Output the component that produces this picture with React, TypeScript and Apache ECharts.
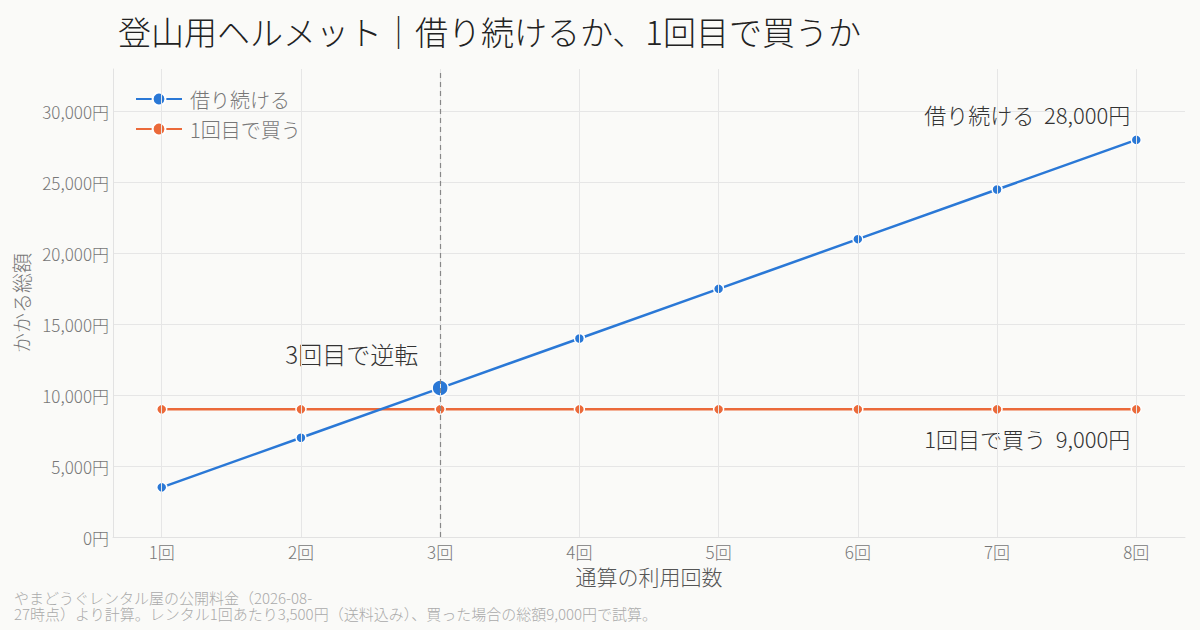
import React, { useEffect, useRef } from "react";
import * as echarts from "echarts";

const uses = [1, 2, 3, 4, 5, 6, 7, 8];
const rentTotals = [3500, 7000, 10500, 14000, 17500, 21000, 24500, 28000];
const buyTotals = [9000, 9000, 9000, 9000, 9000, 9000, 9000, 9000];
const yTicks = [0, 5000, 10000, 15000, 20000, 25000, 30000];
const crossoverUse = 3;
const seriesNames = ["借り続ける", "1回目で買う"];
const titleText = "登山用ヘルメット｜借り続けるか、1回目で買うか";
const noteText =
  "やまどうぐレンタル屋の公開料金（2026-08-\n27時点）より計算。レンタル1回あたり3,500円（送料込み）、買った場合の総額9,000円で試算。";

const FONT = "'Noto Sans CJK JP', 'Noto Sans', sans-serif";
const W = 200;
const BLUE = "#2a78d6";
const ORANGE = "#eb6a3a";

const fmtYen = (v: number) => v.toLocaleString("en-US") + "円";

export default function App() {
  const ref = useRef<HTMLDivElement>(null);
  useEffect(() => {
    if (!ref.current) return;
    const chart = echarts.init(ref.current, null, { renderer: "svg" });
    const last = uses.length - 1;
    const rentData = uses.map((u, i) => {
      const item: any = { value: [u, rentTotals[i]] };
      if (u === crossoverUse) {
        item.symbolSize = 16;
        item.label = {
          show: true,
          formatter: `${crossoverUse}回目で逆転`,
          position: "top",
          align: "right",
          distance: 14,
          offset: [-22, 0],
          fontSize: 24,
          color: "#333",
          fontFamily: FONT,
          fontWeight: W,
        };
      }
      if (i === last) {
        item.label = {
          show: true,
          formatter: `${seriesNames[0]}  ${fmtYen(rentTotals[i])}`,
          position: "top",
          align: "right",
          distance: 9,
          offset: [-6, 0],
          fontSize: 22,
          color: "#333",
          fontFamily: FONT,
          fontWeight: W,
        };
      }
      return item;
    });
    const buyData = uses.map((u, i) => {
      const item: any = { value: [u, buyTotals[i]] };
      if (i === last) {
        item.label = {
          show: true,
          formatter: `${seriesNames[1]}  ${fmtYen(buyTotals[i])}`,
          position: "bottom",
          align: "right",
          distance: 12,
          offset: [-6, 0],
          fontSize: 22,
          color: "#333",
          fontFamily: FONT,
          fontWeight: W,
        };
      }
      return item;
    });

    chart.setOption({
      animation: false,
      backgroundColor: "#fafaf8",
      textStyle: { fontFamily: FONT, fontWeight: W },
      title: [
        {
          text: titleText,
          left: 113,
          top: 9,
          textStyle: { fontSize: 33, fontWeight: W, color: "#222", fontFamily: FONT },
        },
        {
          text: noteText,
          left: 9,
          bottom: 4,
          textStyle: {
            fontSize: 15,
            fontWeight: W,
            color: "#aaa",
            lineHeight: 16,
            fontFamily: FONT,
          },
        },
      ],
      legend: {
        orient: "vertical",
        left: 130,
        top: 84,
        itemWidth: 46,
        itemHeight: 16,
        itemGap: 10,
        textStyle: { fontSize: 20, color: "#777", fontFamily: FONT, fontWeight: W, padding: [0, 0, 0, 3] },
        data: seriesNames,
      },
      grid: { left: 113, right: 15, top: 69, bottom: 93, containLabel: false },
      xAxis: {
        type: "value",
        min: 0.65,
        max: 8.35,
        name: "通算の利用回数",
        nameLocation: "middle",
        nameGap: 28,
        nameTextStyle: { fontSize: 21, color: "#555", fontFamily: FONT, fontWeight: W },
        axisLine: { show: true, lineStyle: { color: "#e2e2e2", width: 1 } },
        axisTick: { show: false },
        splitLine: { show: false },
        axisLabel: {
          customValues: uses,
          formatter: (v: number) => `${v}回`,
          fontSize: 17,
          color: "#777",
          margin: 6,
          fontFamily: FONT,
          fontWeight: W,
        },
      },
      yAxis: {
        type: "value",
        min: 0,
        max: 33000,
        interval: 5000,
        name: "かかる総額",
        nameLocation: "middle",
        nameGap: 75,
        nameTextStyle: { fontSize: 20, color: "#777", fontFamily: FONT, fontWeight: W },
        axisLine: { show: true, lineStyle: { color: "#e2e2e2", width: 1 } },
        axisTick: { show: false },
        splitLine: { show: true, showMaxLine: false, lineStyle: { color: "#e6e6e6", width: 1 } },
        axisLabel: {
          customValues: yTicks,
          formatter: (v: number) => fmtYen(v),
          fontSize: 17,
          color: "#777",
          margin: 4,
          fontFamily: FONT,
          fontWeight: W,
        },
      },
      series: [
        {
          name: "grid-verticals",
          type: "line",
          data: [],
          silent: true,
          markLine: {
            silent: true,
            symbol: "none",
            label: { show: false },
            lineStyle: { color: "#e6e6e6", width: 1, type: "solid" },
            data: uses.map((u) => ({ xAxis: u })),
          },
        },
        {
          name: seriesNames[1],
          type: "line",
          data: buyData,
          color: ORANGE,
          lineStyle: { width: 2.5, color: ORANGE },
          symbol: "circle",
          symbolSize: 10,
          itemStyle: { color: ORANGE, borderColor: "#fff", borderWidth: 1.5 },
          z: 3,
        },
        {
          name: seriesNames[0],
          type: "line",
          data: rentData,
          color: BLUE,
          lineStyle: { width: 2.5, color: BLUE },
          symbol: "circle",
          symbolSize: 10,
          itemStyle: { color: BLUE, borderColor: "#fff", borderWidth: 1.5 },
          z: 4,
          markLine: {
            silent: true,
            symbol: "none",
            label: { show: false },
            lineStyle: { color: "#888", width: 1.2, type: [5, 4] },
            data: [{ xAxis: crossoverUse }],
          },
        },
      ],
    });
    return () => chart.dispose();
  }, []);
  return <div ref={ref} style={{ width: 1200, height: 630, position: "absolute", left: 0, top: 0 }} />;
}
